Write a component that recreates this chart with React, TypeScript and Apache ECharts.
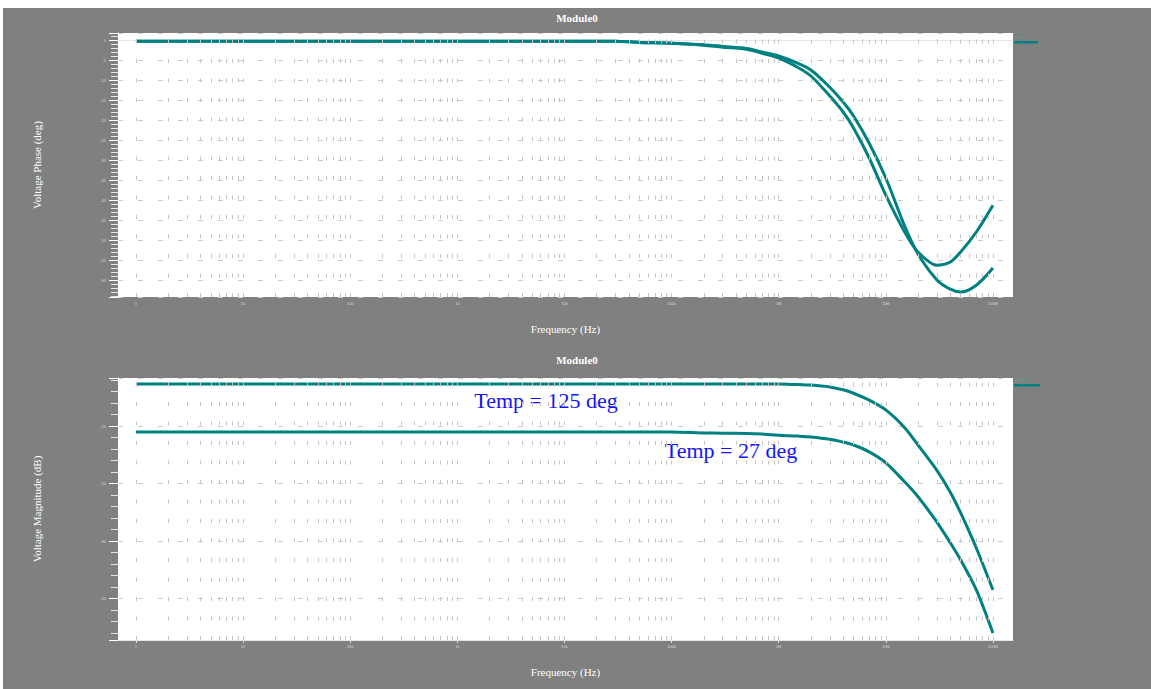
import React, { useEffect, useRef } from 'react';
import * as echarts from 'echarts';

const freqs = [1, 1e4, 3e4, 5e4, 1e5, 2e5, 3e5, 5e5, 7e5, 1e6, 1.5e6, 2e6, 3e6, 4e6, 5e6, 7e6, 1e7, 1.5e7, 2e7, 3e7, 4e7, 5e7, 7e7, 1e8];

const phaseA = [-0.3, -0.3, -0.3, -0.6, -0.8, -1.3, -1.8, -2.3, -3.3, -4.5, -6.8, -9, -14, -18, -22, -29.5, -38.8, -48, -53, -56.3, -55.5, -53, -48, -41.3];
const phaseB = [-0.3, -0.3, -0.3, -0.6, -0.8, -1.2, -1.6, -2.1, -3, -4, -5.8, -7.5, -11.8, -15.5, -19, -25.8, -34.5, -46.5, -53.5, -60, -62.3, -63, -61.3, -57];

const mag125 = [-2.7, -2.7, -2.7, -2.7, -2.7, -2.7, -2.7, -2.7, -2.7, -2.7, -2.8, -2.87, -3.2, -3.7, -4.3, -5.5, -7.2, -10.3, -13.3, -17.7, -21.5, -25.1, -31.2, -38.5];
const mag27 = [-11.04, -11.04, -11.04, -11.04, -11.04, -11.2, -11.25, -11.3, -11.4, -11.6, -11.75, -11.9, -12.3, -12.8, -13.3, -14.5, -16.4, -19.7, -22.3, -26.7, -30.3, -33.3, -38.5, -46];

const decadeLabels = ['1', '10', '100', '1k', '10k', '100k', '1M', '10M', '100M'];
const gridMultipliers = [1, 2, 3, 4, 5, 6, 7, 8, 9];

const titles = ['Module0', 'Module0'];
const yNames = ['Voltage Phase (deg)', 'Voltage Magnitude (dB)'];
const xName = 'Frequency (Hz)';
const legendNames = ['vp(out)', 'vdb(out)'];
const annotations = ['Temp = 125 deg', 'Temp = 27 deg'];

export default function App() {
  const ref = useRef<HTMLDivElement>(null);
  useEffect(() => {
    const chart = echarts.init(ref.current as HTMLDivElement, null, { renderer: 'svg' });
    const teal = '#008080';
    const serif = '"Liberation Serif", "Times New Roman", serif';
    const gridFreqs: number[] = [];
    for (let k = 0; k < 8; k++) for (const m of gridMultipliers) gridFreqs.push(m * Math.pow(10, k));
    gridFreqs.push(1e8);
    const pair = (ys: number[]) => freqs.map((f, i) => [f, ys[i]]);

    const xAxis = (gridIndex: number) => ({
      type: 'log',
      logBase: 10,
      gridIndex,
      min: 0.68,
      max: 1.54e8,
      name: xName,
      nameLocation: 'middle',
      nameGap: 26,
      nameTextStyle: { color: '#ffffff', fontFamily: serif, fontSize: 11 },
      axisLine: { show: true, lineStyle: { color: '#e6e6e6', width: 1 } },
      axisTick: { show: true, length: 3, lineStyle: { color: '#e6e6e6' } },
      axisLabel: {
        fontSize: 4,
        color: '#d8d8d8',
        margin: 4,
        showMinLabel: false,
        showMaxLabel: false,
        formatter: (v: number) => {
          const e = Math.round(Math.log10(v));
          const p = Math.pow(10, e);
          if (Math.abs(v - p) / p < 1e-6 && e >= 0 && e < decadeLabels.length) return decadeLabels[e];
          return '';
        },
      },
      splitLine: { show: false },
    });

    const yAxis = (gridIndex: number, min: number, max: number, splitNumber: number) => ({
      type: 'value',
      gridIndex,
      min,
      max,
      splitNumber,
      name: yNames[gridIndex],
      nameLocation: 'middle',
      nameGap: 76,
      nameTextStyle: { color: '#ffffff', fontFamily: serif, fontSize: 11 },
      axisLine: { show: true, lineStyle: { color: '#ffffff', width: 1 } },
      axisTick: { show: true, length: 9, lineStyle: { color: '#ffffff' } },
      minorTick: { show: true, splitNumber: 5, length: 7, lineStyle: { color: '#e4e4e4' } },
      axisLabel: { fontSize: 4, color: '#d8d8d8', margin: 12, showMinLabel: false, showMaxLabel: false },
      splitLine: { show: true, lineStyle: { color: '#cccccc', type: [5, 15], width: 1 } },
    });

    const gridSeries = (idx: number, ys: number[]) => ({
      type: 'line',
      xAxisIndex: idx,
      yAxisIndex: idx,
      data: pair(ys),
      showSymbol: false,
      silent: true,
      z: 1,
      lineStyle: { opacity: 0 },
      markLine: {
        silent: true,
        symbol: 'none',
        label: { show: false },
        lineStyle: { color: '#c4c4c4', type: [4, 15.5], width: 1 },
        data: gridFreqs.map((f) => ({ xAxis: f })),
      },
    });

    const curve = (idx: number, ys: number[]) => ({
      type: 'line',
      xAxisIndex: idx,
      yAxisIndex: idx,
      data: pair(ys),
      showSymbol: false,
      smooth: 0.3,
      z: 3,
      lineStyle: { color: teal, width: 3 },
    });

    chart.setOption({
      animation: false,
      backgroundColor: '#808080',
      grid: [
        { left: 115, top: 25, width: 895, height: 264, show: true, backgroundColor: '#ffffff', borderWidth: 0 },
        { left: 115, top: 370, width: 895, height: 262, show: true, backgroundColor: '#ffffff', borderWidth: 0 },
      ],
      xAxis: [xAxis(0), xAxis(1)],
      yAxis: [yAxis(0, -64.25, 1.75, 13), yAxis(1, -47.2, -1.65, 5)],
      series: [
        gridSeries(0, phaseA),
        curve(0, phaseA),
        curve(0, phaseB),
        gridSeries(1, mag125),
        curve(1, mag125),
        curve(1, mag27),
      ],
      graphic: [
        { type: 'text', left: 'center', top: 4, style: { text: titles[0], fill: '#ffffff', font: `bold 11px ${serif}` } },
        { type: 'text', left: 'center', top: 346, style: { text: titles[1], fill: '#ffffff', font: `bold 11px ${serif}` } },
        { type: 'text', x: 1012, y: 26, style: { text: legendNames[0], fill: '#5f9f9f', font: `4px ${serif}` } },
        { type: 'rect', shape: { x: 1011, y: 33, width: 24, height: 2.5 }, style: { fill: teal } },
        { type: 'text', x: 1012, y: 369, style: { text: legendNames[1], fill: '#5f9f9f', font: `4px ${serif}` } },
        { type: 'rect', shape: { x: 1011, y: 376, width: 26, height: 2.5 }, style: { fill: teal } },
        { type: 'text', x: 543, y: 392, style: { text: annotations[0], fill: '#1414f0', font: `22px ${serif}`, align: 'center', verticalAlign: 'middle' } },
        { type: 'text', x: 728, y: 442, style: { text: annotations[1], fill: '#1414f0', font: `22px ${serif}`, align: 'center', verticalAlign: 'middle' } },
      ],
    });
    return () => chart.dispose();
  }, []);
  return <div ref={ref} style={{ position: 'fixed', left: 3, top: 8, width: 1148, height: 681 }} />;
}
